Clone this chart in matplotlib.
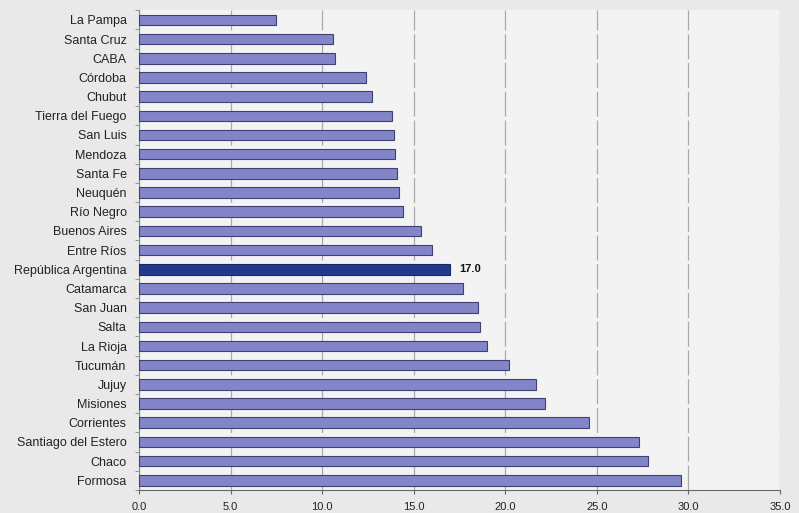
import matplotlib.pyplot as plt
import numpy as np

plt.rcParams['font.family'] = ['Liberation Sans', 'DejaVu Sans']

provincias = ['La Pampa', 'Santa Cruz', 'CABA', 'Córdoba', 'Chubut',
              'Tierra del Fuego', 'San Luis', 'Mendoza', 'Santa Fe', 'Neuquén',
              'Río Negro', 'Buenos Aires', 'Entre Ríos', 'República Argentina',
              'Catamarca', 'San Juan', 'Salta', 'La Rioja', 'Tucumán', 'Jujuy',
              'Misiones', 'Corrientes', 'Santiago del Estero', 'Chaco', 'Formosa']
valores = [7.5, 10.6, 10.7, 12.4, 12.7, 13.8, 13.9, 14.0, 14.1, 14.2,
           14.4, 15.4, 16.0, 17.0, 17.7, 18.5, 18.6, 19.0, 20.2, 21.7,
           22.2, 24.6, 27.3, 27.8, 29.6]
destacado = 'República Argentina'
xticks = [0, 5, 10, 15, 20, 25, 30, 35]

fig = plt.figure(figsize=(7.99, 5.13), dpi=100)
fig.patch.set_facecolor('#e9e9e9')
ax = fig.add_axes([0.174, 0.045, 0.802, 0.935])
ax.set_facecolor('#f3f3f3')

y = np.arange(len(provincias))
colores = ['#233a8c' if p == destacado else '#8286c9' for p in provincias]
bordes = ['#1a2766' if p == destacado else '#3d4070' for p in provincias]
ax.barh(y, valores, height=0.55, color=colores, edgecolor=bordes, linewidth=0.8, zorder=3)

i = provincias.index(destacado)
ax.text(valores[i] + 0.5, y[i], f'{valores[i]:.1f}', va='center', ha='left',
        fontsize=8, fontweight='bold', color='#111111')

ax.set_ylim(len(provincias) - 0.5, -0.5)
ax.set_yticks(y)
ax.set_yticklabels(provincias, fontsize=9, color='#222222')
ax.set_yticks(np.arange(len(provincias) + 1) - 0.5, minor=True)
ax.tick_params(axis='y', which='major', length=0, pad=9)
ax.tick_params(axis='y', which='minor', length=3, color='#888888')

ax.set_xlim(0, 35)
ax.set_xticks(xticks)
ax.set_xticklabels([f'{v:.1f}' for v in xticks], fontsize=8, color='#222222')
ax.tick_params(axis='x', length=3, color='#666666', pad=6)
ax.grid(axis='x', linestyle=(0, (20, 3)), color='#aaaaaa', linewidth=0.9, zorder=0)

for s in ['top', 'right']:
    ax.spines[s].set_visible(False)
ax.spines['left'].set_color('#888888')
ax.spines['bottom'].set_color('#666666')

fig.savefig('out.png', dpi=100, facecolor=fig.get_facecolor())
